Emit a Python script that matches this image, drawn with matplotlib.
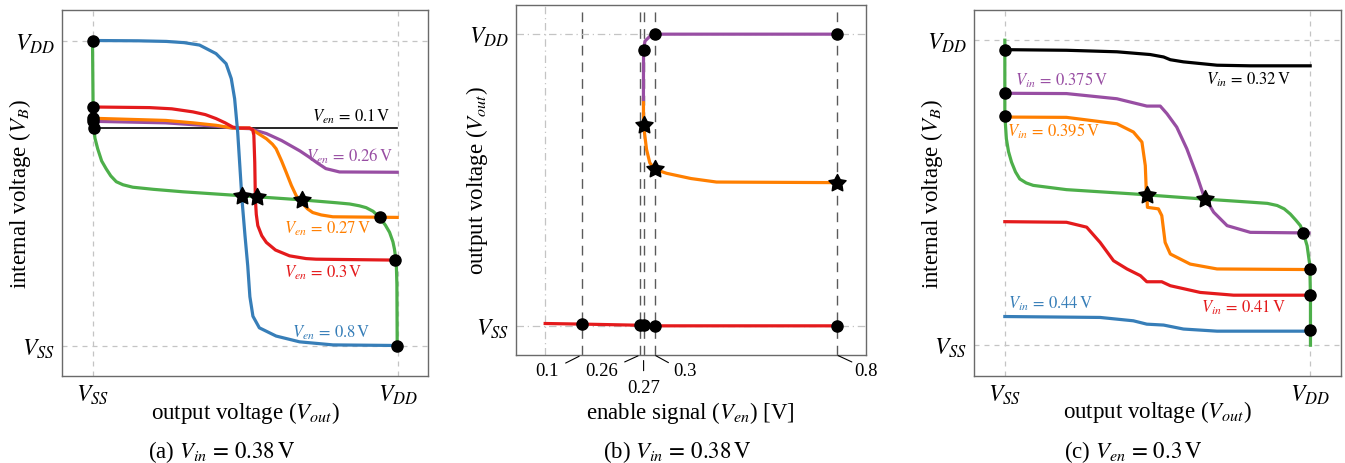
import numpy as np
import matplotlib
matplotlib.use("Agg")
import matplotlib.pyplot as plt
from matplotlib.path import Path
from matplotlib.transforms import blended_transform_factory

plt.rcParams["font.family"] = "serif"
plt.rcParams["font.serif"] = ["Liberation Serif", "DejaVu Serif"]
plt.rcParams["mathtext.fontset"] = "stix"

GREEN = "#4daf4a"
BLUE = "#377eb8"
RED = "#e41a1c"
ORANGE = "#ff7f00"
PURPLE = "#984ea3"

# ---------- panel (a): V_in = 0.38 V, normalised voltages (VSS=0, VDD=1)
a_green_x = [0, 0.002, 0.004, 0.008, 0.017, 0.03, 0.045, 0.06, 0.078, 0.1, 0.132, 0.2, 0.296,
             0.49, 0.679, 0.8, 0.843, 0.875, 0.897, 0.92, 0.941, 0.96, 0.974, 0.985, 0.99,
             0.996, 0.998, 0.999]
a_green_y = [1.0, 0.776, 0.72, 0.68, 0.645, 0.605, 0.579, 0.556, 0.537, 0.527, 0.519, 0.512,
             0.504, 0.491, 0.478, 0.468, 0.464, 0.458, 0.452, 0.44, 0.42, 0.395, 0.371, 0.34,
             0.316, 0.272, 0.2, 0.0]
a_blue_x = [0, 0.15, 0.242, 0.3, 0.351, 0.405, 0.438, 0.455, 0.466, 0.476, 0.49, 0.5, 0.509,
            0.516, 0.526, 0.547, 0.602, 0.679, 0.788, 0.999]
a_blue_y = [1.0, 0.999, 0.997, 0.993, 0.985, 0.957, 0.924, 0.875, 0.809, 0.70, 0.48, 0.36,
            0.261, 0.16, 0.096, 0.058, 0.031, 0.012, 0.002, 0.0]
a_red_x = [0, 0.187, 0.26, 0.329, 0.37, 0.405, 0.435, 0.46, 0.48, 0.515, 0.525, 0.529, 0.532,
           0.534, 0.537, 0.542, 0.555, 0.57, 0.6, 0.646, 0.7, 0.733, 0.993]
a_red_y = [0.782, 0.780, 0.776, 0.766, 0.757, 0.744, 0.73, 0.716, 0.713, 0.713, 0.708, 0.69,
           0.60, 0.48, 0.43, 0.393, 0.36, 0.338, 0.313, 0.294, 0.285, 0.283, 0.28]
a_orange_x = [0.002, 0.24, 0.33, 0.405, 0.46, 0.515, 0.54, 0.57, 0.59, 0.602, 0.62, 0.635,
              0.652, 0.668, 0.69, 0.705, 0.722, 0.75, 0.788, 0.999]
a_orange_y = [0.745, 0.738, 0.73, 0.722, 0.713, 0.713, 0.697, 0.678, 0.66, 0.645, 0.605, 0.568,
              0.525, 0.491, 0.464, 0.448, 0.436, 0.428, 0.422, 0.42]
a_purple_x = [0.003, 0.24, 0.405, 0.46, 0.515, 0.57, 0.62, 0.68, 0.71, 0.735, 0.765, 0.81, 0.999]
a_purple_y = [0.735, 0.73, 0.719, 0.713, 0.711, 0.695, 0.672, 0.638, 0.618, 0.6, 0.58, 0.569,
              0.568]
a_black_x = [0.005, 0.999]
a_black_y = [0.713, 0.713]
a_dot_x = [0, 0, 0.002, 0.003, 0.005, 0.944, 0.993, 0.999]
a_dot_y = [1.0, 0.782, 0.745, 0.735, 0.713, 0.42, 0.28, 0.0]
a_star_x = [0.49, 0.539, 0.687]
a_star_y = [0.491, 0.486, 0.477]

# ---------- panel (b): output voltage vs enable signal
b_red_x = [0.0, 0.1, 0.26, 0.27, 0.3, 0.8]
b_red_y = [0.008, 0.006, 0.002, 0.002, 0.0, 0.0]
b_purple_x = [0.2695, 0.2697, 0.27, 0.2737, 0.2874, 0.301, 0.8]
b_purple_y = [0.776, 0.90, 0.945, 0.976, 0.993, 1.0, 1.0]
b_orange_x = [0.2695, 0.2697, 0.27, 0.278, 0.287, 0.3, 0.333, 0.40, 0.47, 0.8]
b_orange_y = [0.776, 0.72, 0.687, 0.605, 0.559, 0.537, 0.523, 0.505, 0.493, 0.491]
b_dot_x = [0.1, 0.26, 0.27, 0.3, 0.8, 0.27, 0.3, 0.8]
b_dot_y = [0.006, 0.002, 0.002, 0.0, 0.0, 0.945, 1.0, 1.0]
b_star_x = [0.27, 0.3, 0.8]
b_star_y = [0.687, 0.537, 0.491]
b_ticks = [0.1, 0.26, 0.27, 0.3, 0.8]
b_tick_labels = ["0.1", "0.26", "0.27", "0.3", "0.8"]

# ---------- panel (c): V_en = 0.3 V
c_green_x = [0, 0.0, 0.005, 0.012, 0.022, 0.035, 0.049, 0.07, 0.093, 0.202, 0.421, 0.64, 0.804,
             0.86, 0.892, 0.915, 0.935, 0.953, 0.968, 0.98, 0.99, 0.999, 1.001, 1.001]
c_green_y = [1.0, 0.754, 0.677, 0.635, 0.6, 0.568, 0.545, 0.532, 0.524, 0.51, 0.496, 0.48,
             0.469, 0.465, 0.458, 0.447, 0.43, 0.41, 0.392, 0.36, 0.326, 0.261, 0.151, 0.0]
c_black_x = [0, 0.202, 0.367, 0.476, 0.52, 0.542, 0.585, 0.695, 0.804, 1.0]
c_black_y = [0.969, 0.967, 0.962, 0.953, 0.945, 0.936, 0.929, 0.918, 0.916, 0.916]
c_purple_x = [0, 0.202, 0.367, 0.465, 0.509, 0.531, 0.563, 0.596, 0.629, 0.651, 0.684, 0.728,
              0.804, 0.996]
c_purple_y = [0.826, 0.825, 0.808, 0.784, 0.784, 0.759, 0.715, 0.644, 0.556, 0.491, 0.436,
              0.392, 0.37, 0.368]
c_orange_x = [0, 0.202, 0.367, 0.421, 0.449, 0.46, 0.463, 0.465, 0.467, 0.503, 0.514, 0.525,
              0.542, 0.607, 0.695, 1.001]
c_orange_y = [0.748, 0.747, 0.726, 0.699, 0.666, 0.589, 0.513, 0.491, 0.452, 0.447, 0.425,
              0.337, 0.299, 0.266, 0.25, 0.248]
c_red_x = [0, 0.202, 0.268, 0.312, 0.356, 0.4, 0.444, 0.465, 0.514, 0.542, 0.64, 0.749, 1.0]
c_red_y = [0.405, 0.403, 0.387, 0.337, 0.277, 0.25, 0.228, 0.208, 0.208, 0.195, 0.173, 0.164,
           0.164]
c_blue_x = [0, 0.312, 0.421, 0.465, 0.52, 0.585, 0.695, 1.0]
c_blue_y = [0.094, 0.091, 0.08, 0.069, 0.066, 0.053, 0.046, 0.046]
c_dot_x = [0, 0, 0, 0.976, 1.0, 1.0, 1.0]
c_dot_y = [0.969, 0.826, 0.75, 0.368, 0.25, 0.164, 0.049]
c_star_x = [0.465, 0.654]
c_star_y = [0.491, 0.48]

STAR = Path.unit_regular_star(5, innerCircle=0.52)


def style_axes(ax):
    for s in ax.spines.values():
        s.set_color("#6a6a6a")
        s.set_linewidth(1.0)
    ax.tick_params(length=0, labelsize=17, pad=5)


def marks(ax, dx, dy, sx, sy):
    ax.plot(dx, dy, "o", color="black", ms=8, zorder=5, clip_on=False)
    ax.plot(sx, sy, linestyle="none", marker=STAR, color="black", ms=13, zorder=6,
            clip_on=False)


def vv_panel(ax):
    ax.set_xlim(-0.1, 1.1)
    ax.set_ylim(-0.1, 1.1)
    ax.set_xticks([0, 1], [r"$V_{SS}$", r"$V_{DD}$"])
    ax.set_yticks([0, 1], [r"$V_{SS}$", r"$V_{DD}$"])
    ax.grid(True, color="#c4c4c4", linestyle=(0, (4, 4)), linewidth=0.9, zorder=0)
    style_axes(ax)
    ax.set_xlabel(r"output voltage ($V_{out}$)", fontsize=16.5)
    ax.set_ylabel(r"internal voltage ($V_{B}$)", fontsize=16.5)
    ax.xaxis.set_label_coords(0.5, -0.0975)
    ax.xaxis.label.set_va("center")
    ax.yaxis.set_label_coords(-0.115, 0.5)
    ax.yaxis.label.set_va("center")


def note(ax, x, y, name, value, color):
    ax.text(x, y, r"$V_{%s}\,=\,%s\,\mathrm{V}$" % (name, value), color=color, fontsize=12,
            ha="center", va="center")


fig = plt.figure(figsize=(13.45, 4.64), dpi=100)
W, H = 1345, 464
ax_a = fig.add_axes([62 / W, (H - 377) / H, 366 / W, 366 / H])
ax_b = fig.add_axes([516 / W, (H - 356) / H, 350 / W, 350 / H])
ax_c = fig.add_axes([974.3 / W, (H - 376.7) / H, 366.4 / W, 366 / H])

# (a)
vv_panel(ax_a)
lw = 2.3
ax_a.plot(a_green_x, a_green_y, color=GREEN, lw=lw, zorder=2)
ax_a.plot(a_black_x, a_black_y, color="black", lw=1.2, zorder=2)
ax_a.plot(a_purple_x, a_purple_y, color=PURPLE, lw=lw, zorder=2)
ax_a.plot(a_orange_x, a_orange_y, color=ORANGE, lw=lw, zorder=2)
ax_a.plot(a_red_x, a_red_y, color=RED, lw=lw, zorder=2)
ax_a.plot(a_blue_x, a_blue_y, color=BLUE, lw=lw, zorder=3)
marks(ax_a, a_dot_x, a_dot_y, a_star_x, a_star_y)
note(ax_a, 0.849, 0.754, "en", "0.1", "black")
note(ax_a, 0.843, 0.625, "en", "0.26", PURPLE)
note(ax_a, 0.770, 0.387, "en", "0.27", ORANGE)
note(ax_a, 0.757, 0.241, "en", "0.3", RED)
note(ax_a, 0.782, 0.045, "en", "0.8", BLUE)

# (b)
ax_b.set_xlim(-0.08, 0.88)
ax_b.set_ylim(-0.1, 1.1)
ax_b.set_xticks([])
ax_b.set_yticks([0, 1], [r"$V_{SS}$", r"$V_{DD}$"])
style_axes(ax_b)
ax_b.grid(True, axis="y", color="#c4c4c4", linestyle=(0, (6, 3, 1, 3)), linewidth=0.9, zorder=0)
ax_b.axvline(0, color="#c4c4c4", linestyle=(0, (6, 3, 1, 3)), linewidth=0.9, zorder=0)
for v in b_ticks:
    ax_b.axvline(v, color="#5a5a5a", linestyle=(0, (7, 5)), linewidth=1.0, zorder=1)
ax_b.plot(b_red_x, b_red_y, color=RED, lw=lw, zorder=2)
ax_b.plot(b_orange_x, b_orange_y, color=ORANGE, lw=lw, zorder=2)
ax_b.plot(b_purple_x, b_purple_y, color=PURPLE, lw=lw, zorder=2)
marks(ax_b, b_dot_x, b_dot_y, b_star_x, b_star_y)

# staggered tick labels with small leader lines (offsets in points)
trans = blended_transform_factory(ax_b.transData, ax_b.transAxes)
leader_end = [(-11.5, -5.8), (-11.0, -5.0), (0, -11.3), (10.0, -5.5), (10.8, -5.0)]
leader_gap = [2.0, 1.5, 4.0, 1.0, 1.0]
label_off = [(-25, -11.5), (-27.4, -11.5), (0, -23.5), (22, -11.5), (21, -11.5)]
for v, lab, end, gap, off in zip(b_ticks, b_tick_labels, leader_end, leader_gap, label_off):
    ax_b.annotate("", xy=(v, 0), xycoords=trans, xytext=end, textcoords="offset points",
                  arrowprops=dict(arrowstyle="-", lw=0.8, color="black", shrinkA=0, shrinkB=gap))
    ax_b.annotate(lab, xy=(v, 0), xycoords=trans, xytext=off, textcoords="offset points",
                  ha="center", va="center", fontsize=13.5)
ax_b.set_xlabel(r"enable signal ($V_{en}$) [V]", fontsize=16.5)
ax_b.xaxis.set_label_coords(0.497, -0.162)
ax_b.xaxis.label.set_va("center")
ax_b.set_ylabel(r"output voltage ($V_{out}$)", fontsize=16.5)
ax_b.yaxis.set_label_coords(-0.112, 0.5)
ax_b.yaxis.label.set_va("center")

# (c)
vv_panel(ax_c)
ax_c.plot(c_green_x, c_green_y, color=GREEN, lw=lw, zorder=2)
ax_c.plot(c_black_x, c_black_y, color="black", lw=lw, zorder=2)
ax_c.plot(c_purple_x, c_purple_y, color=PURPLE, lw=lw, zorder=2)
ax_c.plot(c_orange_x, c_orange_y, color=ORANGE, lw=lw, zorder=2)
ax_c.plot(c_red_x, c_red_y, color=RED, lw=lw, zorder=2)
ax_c.plot(c_blue_x, c_blue_y, color=BLUE, lw=lw, zorder=2)
marks(ax_c, c_dot_x, c_dot_y, c_star_x, c_star_y)
note(ax_c, 0.798, 0.874, "in", "0.32", "black")
note(ax_c, 0.186, 0.872, "in", "0.375", PURPLE)
note(ax_c, 0.159, 0.706, "in", "0.395", ORANGE)
note(ax_c, 0.149, 0.140, "in", "0.44", BLUE)
note(ax_c, 0.783, 0.126, "in", "0.41", RED)

# captions
cap = 16.5
fig.text(221.7 / W, 1 - 451.7 / H, r"(a) $V_{in}\,=\,0.38\,\mathrm{V}$", ha="center", va="center", fontsize=cap)
fig.text(676.7 / W, 1 - 451.7 / H, r"(b) $V_{in}\,=\,0.38\,\mathrm{V}$", ha="center", va="center", fontsize=cap)
fig.text(1133 / W, 1 - 451.7 / H, r"(c) $V_{en}\,=\,0.3\,\mathrm{V}$", ha="center", va="center", fontsize=cap)

fig.savefig("out.png", dpi=100)
